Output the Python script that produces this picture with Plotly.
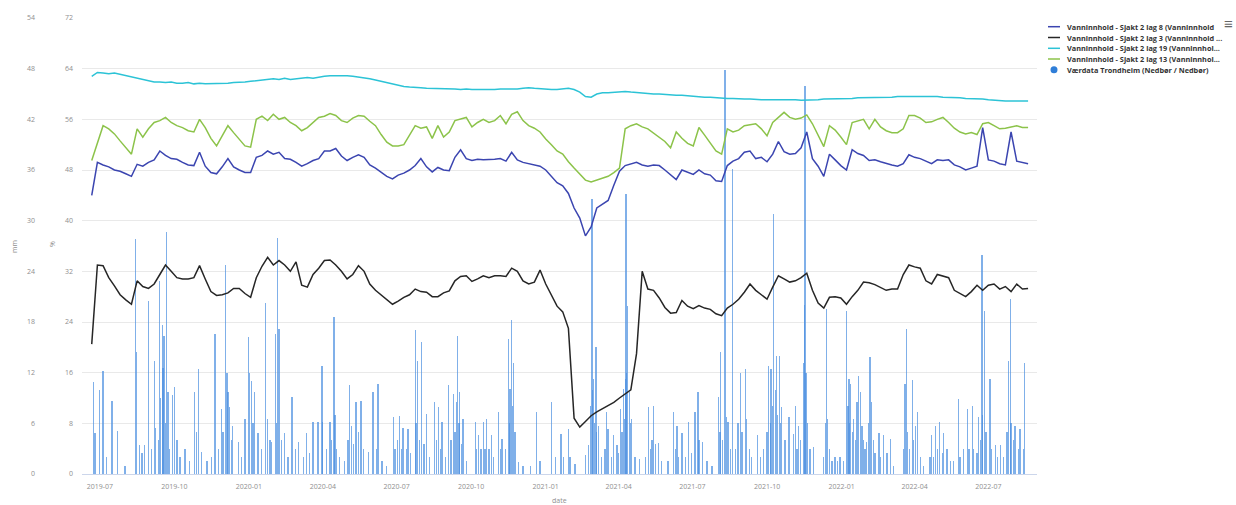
import pandas as pd
import plotly.graph_objects as go

# ---------------- data ----------------
series_start = "2019-06-21"          # first weekly sample
weeks = 166

lag8 = [44.0, 49.2, 48.8, 48.5, 48.0, 47.8, 47.4, 47.0, 48.9, 48.6,
        49.2, 49.6, 51.0, 50.3, 49.8, 49.7, 49.2, 48.8, 48.7, 50.8,
        48.6, 47.6, 47.4, 48.5, 49.8, 48.5, 48.0, 47.6, 47.6, 50.0,
        50.3, 51.0, 50.5, 50.8, 49.8, 49.7, 49.2, 48.6, 49.0, 49.5,
        49.8, 51.0, 51.0, 51.4, 50.2, 49.5, 50.0, 50.4, 50.0, 48.8,
        48.3, 47.6, 47.0, 46.6, 47.2, 47.5, 48.0, 48.7, 49.8, 48.5,
        47.7, 48.4, 48.0, 47.9, 50.0, 51.2, 49.8, 49.5, 49.7, 49.6,
        49.6, 49.7, 49.8, 49.4, 50.8, 49.6, 49.2, 49.0, 48.9, 48.6,
        48.0, 47.0, 46.0, 45.5, 44.3, 42.0, 40.4, 37.6, 39.0, 42.0,
        42.6, 43.2, 45.6, 47.8, 48.7, 49.0, 49.2, 48.8, 48.6, 48.8,
        48.7, 48.0, 47.2, 46.5, 48.0, 47.6, 47.3, 48.0, 47.4, 47.2,
        46.3, 46.2, 48.7, 49.4, 49.8, 50.8, 51.0, 49.8, 50.0, 49.3,
        50.5, 52.5, 50.9, 50.5, 50.6, 51.5, 54.0, 49.8, 48.6, 47.0,
        50.5, 49.6, 48.7, 48.0, 51.2, 50.6, 50.3, 49.5, 49.6, 49.3,
        49.0, 48.8, 48.6, 49.0, 50.4, 50.0, 49.8, 49.4, 49.0, 49.6,
        49.5, 49.6, 48.8, 48.5, 48.0, 48.3, 48.6, 54.7, 49.6, 49.4,
        49.0, 48.8, 54.0, 49.4, 49.2, 49.0]

lag3 = [20.5, 33.0, 32.9, 31.0, 29.7, 28.3, 27.5, 26.8, 30.5, 29.6,
        29.3, 30.0, 31.5, 33.0, 32.0, 31.0, 30.8, 30.8, 31.0, 32.9,
        30.8, 28.8, 28.2, 28.3, 28.6, 29.3, 29.3, 28.5, 27.9, 31.0,
        32.8, 34.2, 33.0, 33.7, 33.0, 32.0, 33.5, 29.8, 29.5, 31.5,
        32.5, 33.7, 33.8, 33.0, 32.0, 30.8, 31.5, 32.9, 32.0, 30.0,
        29.0, 28.3, 27.6, 26.8, 27.3, 27.9, 28.3, 29.2, 28.8, 28.7,
        28.0, 28.0, 28.6, 28.9, 30.5, 31.2, 31.3, 30.4, 30.8, 31.3,
        31.0, 31.3, 31.3, 31.2, 32.5, 32.0, 30.5, 30.0, 30.3, 32.2,
        30.0, 28.3, 26.5, 25.6, 23.0, 8.8, 7.4, 8.3, 9.2, 9.8,
        10.3, 10.9, 11.3, 12.0, 12.6, 13.3, 19.0, 32.0, 29.2, 29.0,
        27.8, 26.3, 25.4, 25.5, 27.4, 26.5, 26.1, 26.6, 26.2, 26.0,
        25.3, 25.0, 26.2, 26.8, 27.6, 28.7, 30.0, 29.0, 28.3, 27.6,
        29.5, 31.3, 30.8, 30.3, 30.5, 31.0, 31.7, 29.0, 27.0, 26.2,
        27.9, 28.0, 27.8, 26.8, 28.0, 29.0, 30.3, 30.2, 29.9, 29.4,
        29.0, 29.2, 29.2, 31.5, 33.0, 32.7, 32.5, 30.5, 30.0, 31.5,
        31.3, 31.0, 29.0, 28.5, 28.0, 28.8, 29.8, 29.0, 29.8, 30.0,
        29.2, 29.6, 28.8, 30.0, 29.2, 29.3]

lag19 = [62.8, 63.4, 63.3, 63.2, 63.3, 63.1, 62.9, 62.6, 62.4, 62.2,
         62.0, 61.9, 61.9, 61.8, 61.9, 61.7, 61.7, 61.8, 61.6, 61.7,
         61.6, 61.6, 61.7, 61.6, 61.7, 61.8, 61.8, 61.9, 62.0, 62.1,
         62.2, 62.2, 62.4, 62.3, 62.5, 62.3, 62.4, 62.5, 62.6, 62.5,
         62.7, 62.8, 62.9, 62.9, 63.0, 62.9, 62.8, 62.7, 62.6, 62.4,
         62.2, 62.0, 61.7, 61.5, 61.4, 61.2, 61.1, 61.1, 61.0, 60.9,
         60.9, 60.8, 60.8, 60.8, 60.8, 60.7, 60.8, 60.7, 60.7, 60.6,
         60.7, 60.7, 60.8, 60.8, 60.7, 60.8, 60.9, 61.0, 60.9, 60.8,
         60.8, 60.7, 60.7, 60.8, 60.9, 60.7, 60.3, 59.6, 59.5, 60.0,
         60.2, 60.2, 60.3, 60.3, 60.4, 60.3, 60.2, 60.2, 60.1, 60.0,
         60.0, 59.9, 59.9, 59.8, 59.8, 59.7, 59.7, 59.6, 59.5, 59.5,
         59.4, 59.3, 59.3, 59.3, 59.2, 59.2, 59.2, 59.1, 59.1, 59.1,
         59.1, 59.2, 59.1, 59.1, 59.1, 59.0, 59.0, 59.1, 59.1, 59.2,
         59.2, 59.2, 59.3, 59.3, 59.3, 59.4, 59.4, 59.4, 59.5, 59.5,
         59.5, 59.5, 59.6, 59.6, 59.7, 59.7, 59.7, 59.7, 59.6, 59.6,
         59.5, 59.5, 59.4, 59.4, 59.3, 59.3, 59.2, 59.2, 59.1, 59.0,
         59.0, 58.9, 58.9, 58.9, 58.9, 58.9]

lag13 = [49.5, 52.4, 55.0, 54.5, 53.7, 52.6, 51.6, 50.5, 54.5, 53.2,
         54.5, 55.5, 55.8, 56.3, 55.5, 55.0, 54.7, 54.2, 54.0, 56.0,
         54.7, 53.0, 51.8, 53.5, 55.0, 53.9, 52.8, 51.8, 51.6, 56.0,
         56.5, 55.8, 56.8, 56.0, 56.3, 55.5, 55.0, 54.2, 54.7, 55.5,
         56.3, 56.5, 56.9, 56.6, 55.8, 55.5, 56.2, 56.6, 56.5, 55.7,
         55.0, 53.6, 52.4, 51.8, 51.8, 52.0, 53.5, 55.0, 54.6, 54.8,
         53.0, 55.0, 53.2, 54.0, 55.8, 56.0, 56.3, 54.8, 55.5, 56.0,
         55.5, 55.8, 56.6, 55.3, 56.8, 57.2, 55.8, 55.0, 54.6, 54.0,
         52.9, 52.0, 51.0, 50.5, 49.3, 48.3, 47.3, 46.4, 46.1, 46.4,
         46.6, 47.0, 47.6, 48.3, 54.5, 55.0, 55.3, 54.8, 54.5, 53.8,
         53.2, 52.5, 51.5, 54.0, 53.0, 52.2, 51.8, 54.7, 53.5, 52.3,
         51.0, 50.5, 54.5, 54.0, 54.3, 55.0, 55.2, 55.3, 54.5, 53.4,
         55.5, 56.3, 57.1, 56.3, 56.0, 56.2, 56.7, 55.3, 53.5, 51.7,
         55.0, 54.3, 53.2, 52.0, 55.5, 55.8, 56.0, 54.5, 56.0, 54.8,
         54.2, 53.9, 53.9, 54.5, 56.6, 56.6, 56.2, 55.5, 55.6, 56.0,
         56.3, 55.5, 54.6, 54.0, 53.7, 53.9, 53.6, 55.3, 55.5, 55.0,
         54.5, 54.6, 54.8, 55.0, 54.7, 54.7]

# precipitation: day number counted from series_start, and mm
precip_day = [2, 4, 10, 14, 18, 25, 32, 41, 54, 55, 59, 62, 65, 70, 74, 77, 79, 82, 84, 85,
              87, 88, 89, 91, 92, 94, 96, 100, 102, 105, 109, 115, 121, 127, 129, 132, 135, 142, 148, 152,
              156, 160, 162, 165, 167, 168, 170, 172, 174, 181, 185, 189, 193, 195, 197, 199, 201, 205, 209, 214,
              217, 220, 222, 227, 228, 229, 231, 234, 238, 242, 247, 251, 255, 261, 265, 269, 273, 279, 284,
              285, 290, 294, 296, 299, 300, 302, 306, 312, 316, 318, 320, 323, 326, 329, 332, 335, 341, 347, 351,
              353, 358, 364, 372, 374, 377, 380, 382, 384, 388, 390, 393, 399, 400, 402, 404, 407, 410, 413, 417,
              423, 425, 428, 430, 432, 436, 440, 443, 446, 448, 450, 451, 453, 454, 456, 458, 462, 473, 475, 477,
              480, 483, 485, 487, 490, 493, 496, 502, 504, 506, 510, 514, 515, 516, 518, 519, 520, 522, 526, 532,
              541, 549, 553, 567, 572,
              579, 582, 588, 590, 596, 609, 613, 615, 617, 618, 619, 620, 622, 623, 625, 629, 633, 635, 637, 641,
              644, 648, 650, 652, 654, 656, 657, 658, 659, 660, 661, 663, 665, 666, 670, 676, 683, 687, 689, 691,
              693, 695, 699, 703, 711, 718, 720, 722, 724, 728, 732, 736, 740, 744, 748, 749, 753, 759, 765, 773,
              775, 776, 778, 781, 783, 785, 788, 790, 794, 797, 800, 802, 806, 808, 811, 814, 821, 825, 829, 833,
              835, 837, 838, 840, 841, 843, 845, 846, 848, 850, 851, 855, 860, 866,
              868, 870, 872, 874, 878, 879, 880, 881, 883, 886, 890, 903, 905, 906, 908, 910, 913, 917, 920, 923,
              927, 931, 933, 934, 935, 936, 938, 940, 942, 944, 946, 948, 950, 952, 954, 956, 958, 960, 962, 964,
              966, 971, 973, 977, 981, 985, 989, 1001, 1003, 1005, 1006, 1009, 1012, 1014, 1016, 1019, 1022, 1026, 1034, 1036,
              1038, 1041, 1043, 1046, 1049, 1051, 1055, 1059, 1063, 1069, 1071, 1075, 1080, 1082, 1086, 1088, 1092, 1094, 1096, 1098,
              1099, 1101, 1103, 1108, 1110, 1115, 1117, 1121, 1125, 1129, 1131, 1133, 1134, 1137, 1139, 1143, 1145, 1149, 1151]

precip_mm = [10.9, 4.9, 9.9, 12.2, 2.0, 8.7, 5.1, 1.0, 27.8, 14.4, 3.4, 2.5, 3.4, 20.5, 3.0, 13.4, 5.5, 4.0, 22.9, 9.0,
             17.6, 12.6, 16.4, 6.0, 28.6, 9.7, 3.0, 9.3, 10.3, 4.0, 2.0, 3.0, 1.5, 9.7, 5.0, 12.4, 2.6, 1.5, 2.0, 16.6,
             3.0, 7.7, 5.0, 24.7, 12.0, 9.7, 7.9, 4.0, 5.7, 3.8, 2.0, 6.5, 16.2, 12.0, 11.0, 6.0, 9.7, 4.9, 3.0, 20.3,
             6.5, 4.0, 3.8, 16.6, 6.0, 28.0, 17.2, 4.0, 4.9, 2.0, 9.1, 3.0, 3.8, 2.0, 4.9, 2.5, 6.1, 6.1, 12.8,
             6.1, 3.0, 6.1, 4.0, 18.6, 7.0, 3.0, 2.0, 1.5, 4.0, 10.5, 5.7, 3.5, 8.5, 5.0, 8.7, 3.0, 2.6, 9.7, 3.0,
             10.7, 1.5, 1.0, 6.7, 3.0, 4.0, 6.9, 3.0, 5.5, 3.0, 5.3, 2.5, 17.0, 6.0, 13.4, 4.0, 15.6, 3.5, 7.1, 2.0,
             8.5, 4.0, 7.9, 3.0, 6.1, 2.0, 10.5, 4.0, 9.5, 5.0, 8.5, 16.4, 6.0, 9.7, 3.5, 6.5, 1.5, 6.1, 3.0, 4.6,
             3.0, 6.1, 3.0, 6.5, 3.0, 4.6, 2.0, 7.3, 3.0, 4.2, 3.0, 16.0, 6.0, 10.1, 18.2, 8.0, 13.2, 5.0, 1.4, 1.0,
             1.0, 7.3, 1.5, 8.5, 2.0,
             4.7, 2.0, 5.3, 2.0, 1.2, 2.2, 3.4, 8.0, 32.6, 10.0, 11.3, 6.0, 15.0, 5.0, 5.7, 2.0, 3.0, 7.3, 5.3, 2.0,
             4.6, 3.4, 2.5, 7.7, 5.0, 10.1, 6.5, 11.3, 33.2, 12.0, 19.9, 9.7, 6.0, 6.5, 2.0, 1.8, 2.0, 7.9, 3.0, 4.0,
             8.1, 3.5, 3.7, 1.5, 1.5, 7.3, 3.0, 5.7, 2.0, 4.9, 2.0, 6.1, 2.5, 7.3, 9.7, 4.0, 3.8, 1.5, 1.0, 9.1,
             5.0, 14.4, 4.0, 47.8, 6.7, 6.1, 3.0, 36.1, 3.0, 6.0, 12.0, 5.0, 12.4, 6.5, 3.0, 2.0, 4.6, 2.0, 3.0, 5.0,
             12.8, 6.0, 12.4, 8.0, 30.8, 10.0, 14.0, 7.0, 14.0, 6.0, 7.9, 4.0, 6.7, 4.7,
             8.1, 3.0, 5.7, 4.0, 13.2, 20.0, 46.0, 12.0, 6.0, 3.0, 3.2, 2.0, 6.0, 19.5, 6.5, 3.0, 1.5, 2.0, 1.5, 2.0,
             1.5, 19.3, 8.0, 11.3, 6.0, 10.7, 5.0, 6.5, 4.0, 8.5, 11.6, 9.7, 5.7, 4.0, 3.0, 3.8, 6.0, 13.8, 8.5, 4.0,
             2.5, 4.9, 2.0, 4.6, 2.5, 4.2, 1.0, 3.0, 10.7, 17.2, 5.0, 3.0, 11.1, 4.0, 5.7, 7.3, 2.0, 1.0, 2.0, 4.6,
             2.0, 5.7, 3.0, 6.1, 2.5, 4.9, 3.0, 1.5, 1.5, 8.9, 2.0, 3.0, 7.7, 3.0, 8.1, 3.0, 2.5, 6.7, 4.0, 25.9,
             7.0, 19.3, 5.0, 11.3, 3.0, 3.4, 2.0, 3.4, 2.0, 5.0, 13.4, 20.7, 6.0, 4.0, 5.7, 3.0, 5.3, 3.0, 13.2]

names = ["Vanninnhold - Sjakt 2 lag 8 (Vanninnhold",
         "Vanninnhold - Sjakt 2 lag 3 (Vanninnhold ...",
         "Vanninnhold - Sjakt 2 lag 19 (Vanninnhol...",
         "Vanninnhold - Sjakt 2 lag 13 (Vanninnhol...",
         "Værdata Trondheim (Nedbør / Nedbør)"]
colors = ["#3b45b0", "#262626", "#2cc3d6", "#8cc34a", "#4a8fe0"]

# ---------------- figure ----------------
W, H = 1236, 505
PL, PR, PT, PB = 82, 1037, 18, 474

def px(x):
    return x / W

def py(y):
    return (PB - y) / (PB - PT)

start = pd.Timestamp(series_start)
dates = pd.date_range(start, periods=weeks, freq="7D")
pdates = start + pd.to_timedelta(precip_day, unit="D")

fig = go.Figure()
fig.add_trace(go.Bar(x=pdates, y=precip_mm, name=names[4], yaxis="y",
                     width=1.6 * 86400000, marker=dict(color="rgba(74,143,224,0.7)", line_width=0),
                     showlegend=False))
for vals, nm, col in zip([lag8, lag3, lag19, lag13], names[:4], colors[:4]):
    fig.add_trace(go.Scatter(x=dates, y=vals, name=nm, yaxis="y2", mode="lines",
                             line=dict(color=col, width=1.5), showlegend=False))

tickfont = dict(family="Open Sans", size=7, color="#8f8f8f")
fig.update_layout(
    width=W, height=H, plot_bgcolor="white", paper_bgcolor="white",
    margin=dict(l=0, r=0, t=PT, b=H - PB, autoexpand=False),
    showlegend=False, bargap=0, barmode="overlay",
    xaxis=dict(domain=[px(PL), px(PR)], type="date",
               range=["2019-06-09", "2022-08-30"],
               tick0="2019-07-01", dtick="M3", tickformat="%Y-%m",
               showgrid=False, showline=True, linecolor="#ccd6eb", linewidth=1,
               ticks="", tickfont=tickfont, ticklabelstandoff=6),
    yaxis=dict(range=[0, 54], dtick=6, anchor="free", position=px(37), side="left",
               showgrid=True, gridcolor="#e9e9e9", gridwidth=1, zeroline=False,
               showline=False, ticks="", tickfont=tickfont, ticklabelstandoff=2),
    yaxis2=dict(range=[0, 72], dtick=8, overlaying="y", anchor="x", side="left",
                showgrid=False, zeroline=False, showline=False, ticks="",
                tickfont=tickfont, ticklabelstandoff=8),
)

axfont = dict(family="Open Sans", size=7, color="#8f8f8f")
ann = []
ann.append(dict(text="date", x=(px(PL) + px(PR)) / 2, y=py(500), xref="paper", yref="paper",
                xanchor="center", yanchor="middle", showarrow=False, font=axfont))
ann.append(dict(text="mm", x=px(14), y=py(247), xref="paper", yref="paper", textangle=-90,
                xanchor="center", yanchor="middle", showarrow=False, font=axfont))
ann.append(dict(text="%", x=px(52), y=py(244), xref="paper", yref="paper", textangle=-90,
                xanchor="center", yanchor="middle", showarrow=False, font=axfont))

# legend (compact, Highcharts-style)
rows = [26.7, 37.5, 48.3, 59.0, 69.8]
shapes = []
for i, (nm, col, ry) in enumerate(zip(names, colors, rows)):
    ann.append(dict(text=nm, x=px(1065), y=py(ry), xref="paper", yref="paper", xanchor="left",
                    yanchor="middle", showarrow=False,
                    font=dict(family="Open Sans", size=7.3, color="#333333", weight="bold")))
    if i < 4:
        shapes.append(dict(type="line", xref="paper", yref="paper", x0=px(1048), x1=px(1060),
                           y0=py(ry), y1=py(ry), line=dict(color=col, width=1.5)))
    else:
        shapes.append(dict(type="circle", xref="paper", yref="paper", x0=px(1050.5), x1=px(1057.5),
                           y0=py(ry - 3.5), y1=py(ry + 3.5), fillcolor="#2f7ed8", line_width=0))
ann.append(dict(text="≡", x=px(1228), y=py(23), xref="paper", yref="paper", showarrow=False,
                xanchor="center", yanchor="middle", font=dict(size=15, color="#666666")))
fig.update_layout(annotations=ann, shapes=shapes)

fig.write_html("out.html", config={"displayModeBar": False},
               post_script="document.body.style.margin='0';")
